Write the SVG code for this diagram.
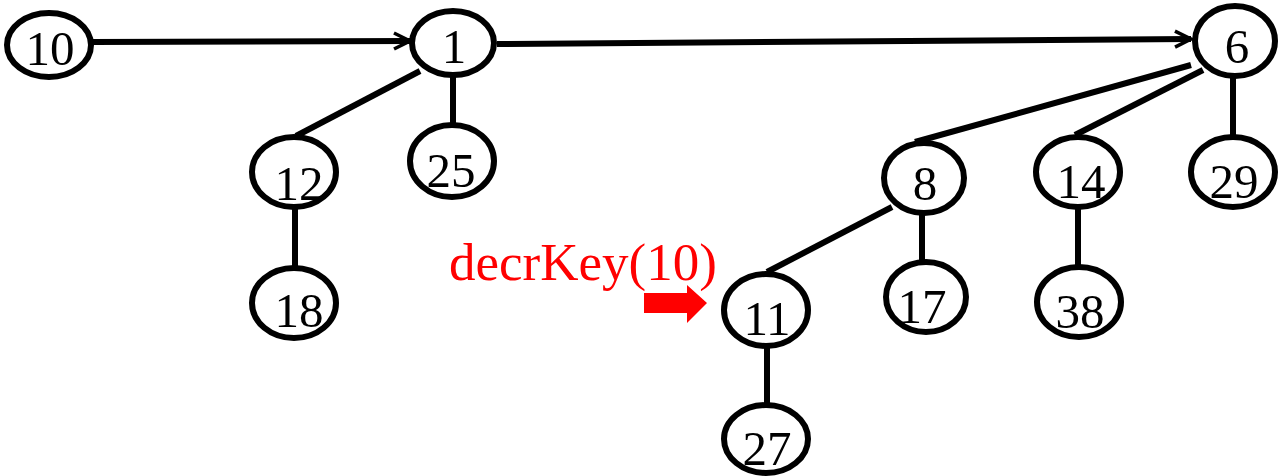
<svg xmlns="http://www.w3.org/2000/svg" width="1278" height="476" viewBox="0 0 1278 476">
<defs>
<style>
.n{fill:#fff;stroke:#000;stroke-width:6}
.t{font-family:"Liberation Serif","Times New Roman",serif;font-size:49px;fill:#000;text-anchor:middle}
.e{stroke:#000;stroke-width:6;fill:none}
.r{font-family:"Liberation Serif","Times New Roman",serif;font-size:53px;fill:#f00}
</style>
<marker id="ah" viewBox="0 0 24 24" refX="21" refY="12" markerWidth="24" markerHeight="24" markerUnits="userSpaceOnUse" orient="auto">
<path d="M5,4 L21,12 L5,20" fill="none" stroke="#000" stroke-width="3.5"/>
</marker>
</defs>
<g id="connectors">
<line class="e" x1="92" y1="42" x2="410" y2="41" marker-end="url(#ah)"/>
<line class="e" x1="497" y1="44" x2="1191" y2="39" marker-end="url(#ah)"/>
<line class="e" x1="420" y1="71" x2="296" y2="136"/>
<line class="e" x1="453" y1="77" x2="453" y2="124"/>
<line class="e" x1="295" y1="209" x2="295" y2="267"/>
<line class="e" x1="1191" y1="65" x2="915" y2="142"/>
<line class="e" x1="1203" y1="70" x2="1075" y2="135"/>
<line class="e" x1="1233" y1="77" x2="1233" y2="135"/>
<line class="e" x1="892" y1="207" x2="767" y2="272"/>
<line class="e" x1="922" y1="214" x2="922" y2="260"/>
<line class="e" x1="1078" y1="209" x2="1078" y2="265"/>
<line class="e" x1="767" y1="346" x2="767" y2="403"/>
</g>
<g id="n10"><ellipse class="n" cx="49" cy="45" rx="42" ry="32"/><text class="t" x="50" y="65">10</text></g>
<g id="n1"><ellipse class="n" cx="453" cy="43" rx="41" ry="32"/><text class="t" x="454" y="63">1</text></g>
<g id="n6"><ellipse class="n" cx="1235" cy="41" rx="40" ry="35"/><text class="t" x="1237" y="63">6</text></g>
<g id="n12"><ellipse class="n" cx="294" cy="172" rx="42" ry="35"/><text class="t" x="299" y="200">12</text></g>
<g id="n25"><ellipse class="n" cx="452" cy="161" rx="42" ry="36"/><text class="t" x="451" y="187">25</text></g>
<g id="n18"><ellipse class="n" cx="294" cy="303" rx="42" ry="35"/><text class="t" x="299" y="327">18</text></g>
<g id="n8"><ellipse class="n" cx="924" cy="178" rx="40" ry="35"/><text class="t" x="925" y="200">8</text></g>
<g id="n14"><ellipse class="n" cx="1078" cy="172" rx="42" ry="35"/><text class="t" x="1081" y="198">14</text></g>
<g id="n29"><ellipse class="n" cx="1233" cy="172" rx="42" ry="35"/><text class="t" x="1234" y="198">29</text></g>
<g id="n17"><ellipse class="n" cx="926" cy="297" rx="40" ry="35"/><text class="t" x="922" y="323">17</text></g>
<g id="n38"><ellipse class="n" cx="1079" cy="302" rx="42" ry="35"/><text class="t" x="1080" y="328">38</text></g>
<g id="n11"><ellipse class="n" cx="766" cy="310" rx="42" ry="36"/><text class="t" x="767" y="335">11</text></g>
<g id="n27"><ellipse class="n" cx="766" cy="439" rx="42" ry="34"/><text class="t" x="767" y="465">27</text></g>
<g id="label">
<text class="r" x="449" y="280">decrKey(10)</text>
<polygon points="644,293 687,293 687,285 707,303 687,323 687,313 644,313" fill="#f00"/>
</g>
</svg>
